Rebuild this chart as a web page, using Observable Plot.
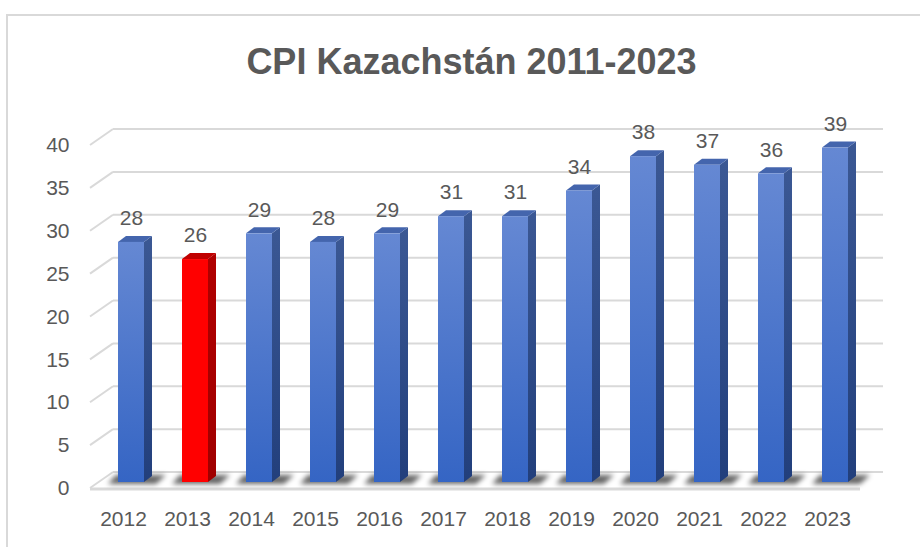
<!DOCTYPE html>
<html>
<head>
<meta charset="utf-8">
<script src="https://cdn.jsdelivr.net/npm/d3@7"></script>
<script src="https://cdn.jsdelivr.net/npm/@observablehq/plot@0.6"></script>
<style>
  html, body { margin: 0; padding: 0; background: #fff; overflow: hidden; }
  #wrap { position: relative; width: 920px; height: 547px; }
  #frame { position: absolute; left: 6px; top: 14px; width: 930px; height: 560px; border: 2px solid #d9d9d9; box-sizing: border-box; }
  #chart { position: absolute; left: 0; top: 0; }
</style>
</head>
<body>
<div id="wrap"><div id="frame"></div><div id="chart"></div></div>
<script>
// ---- data ----
const title = "CPI Kazachstán 2011-2023";
const years = ["2012","2013","2014","2015","2016","2017","2018","2019","2020","2021","2022","2023"];
const cpi = [28, 26, 29, 28, 29, 31, 31, 34, 38, 37, 36, 39];
const highlightYears = ["2013"];
const yTicks = [0, 5, 10, 15, 20, 25, 30, 35, 40];

const data = years.map((year, i) => ({year, value: cpi[i], hl: highlightYears.includes(year)}));

// ---- 3D styling (offsets in pixels) ----
const FRONT = {dx: -8, dy: 6};   // plane of axis labels / floor front edge
const BACK = {dx: 15, dy: -10};  // back wall
const DEPTH = {dx: 8, dy: -6};   // bar depth
const FONT = "'Liberation Sans', Arial, sans-serif";
const TEXT = "#595959";
const GRID = "#d9d9d9";

function el(name, attrs, parent) {
  const e = document.createElementNS("http://www.w3.org/2000/svg", name);
  for (const k in attrs) e.setAttribute(k, attrs[k]);
  if (parent) parent.appendChild(e);
  return e;
}

function defsMark() {
  const defs = el("defs", {});
  const mk = (id, stops) => {
    const g = el("linearGradient", {id, x1: 0, y1: 0, x2: 0, y2: 1}, defs);
    stops.forEach(([o, c]) => el("stop", {offset: o, "stop-color": c}, g));
  };
  mk("blueFront", [[0, "#6588d3"], [1, "#3565c4"]]);
  mk("blueSide", [[0, "#3b5894"], [1, "#223f7c"]]);
  mk("redFront", [[0, "#ff0000"], [1, "#ff0000"]]);
  mk("redSide", [[0, "#b00000"], [1, "#a00000"]]);
  const f = el("filter", {id: "blur", x: "-50%", y: "-200%", width: "200%", height: "500%"}, defs);
  el("feGaussianBlur", {stdDeviation: 2.5}, f);
  return defs;
}

function gridMark(index, scales) {
  const g = el("g", {fill: "none", stroke: GRID, "stroke-width": 2});
  const [xa, xb] = scales.x.range();
  const y0 = scales.y(0);
  // floor front edge
  el("line", {x1: xa + FRONT.dx, y1: y0 + FRONT.dy + 1, x2: xb + FRONT.dx, y2: y0 + FRONT.dy + 1, "stroke-width": 3}, g);
  for (const t of yTicks) {
    const y = scales.y(t);
    el("line", {x1: xa + BACK.dx, y1: y + BACK.dy, x2: xb + BACK.dx, y2: y + BACK.dy}, g);
    el("line", {x1: xa + FRONT.dx, y1: y + FRONT.dy, x2: xa + BACK.dx, y2: y + BACK.dy}, g);
  }
  return g;
}

function barsMark(index, scales) {
  const g = el("g", {});
  const bw = scales.x.bandwidth ? scales.x.bandwidth() : 26;
  const yb = scales.y(0);
  // shadows on the floor
  const sh = el("g", {filter: "url(#blur)", fill: "#000", "fill-opacity": 0.6}, g);
  for (const d of data) {
    const xl = scales.x(d.year);
    el("polygon", {points: [
      [xl - 10, yb + 2], [xl + bw + 12, yb + 2], [xl + bw + 22, yb - 7], [xl - 2, yb - 7]
    ].map(p => p.join(",")).join(" ")}, sh);
  }
  for (const d of data) {
    const xl = scales.x(d.year), yt = scales.y(d.value);
    const front = d.hl ? "url(#redFront)" : "url(#blueFront)";
    const side = d.hl ? "url(#redSide)" : "url(#blueSide)";
    const top = d.hl ? "#c00000" : "#4465ad";
    el("polygon", {fill: side, points: [
      [xl + bw, yt], [xl + bw + DEPTH.dx, yt + DEPTH.dy], [xl + bw + DEPTH.dx, yb + DEPTH.dy], [xl + bw, yb]
    ].map(p => p.join(",")).join(" ")}, g);
    el("polygon", {fill: top, points: [
      [xl, yt], [xl + DEPTH.dx, yt + DEPTH.dy], [xl + bw + DEPTH.dx, yt + DEPTH.dy], [xl + bw, yt]
    ].map(p => p.join(",")).join(" ")}, g);
    el("rect", {fill: front, x: xl, y: yt, width: bw, height: yb - yt}, g);
  }
  return g;
}

const chart = Plot.plot({
  width: 920,
  height: 547,
  margin: 0,
  style: {fontFamily: FONT, background: "transparent", overflow: "visible"},
  x: {type: "band", domain: years, range: [98, 868], paddingInner: 0.594, paddingOuter: 0.297, axis: null},
  y: {domain: [0, 40], range: [482, 139], axis: null},
  marks: [
    defsMark,
    gridMark,
    barsMark,
    // value labels
    Plot.text(data, {x: "year", y: "value", text: d => String(d.value), dy: -24, fontSize: 21, fill: TEXT}),
    // y axis labels (front plane)
    Plot.text(yTicks, {y: d => d, text: d => String(d), frameAnchor: "left", dx: 69, dy: FRONT.dy, textAnchor: "end", fontSize: 21, fill: TEXT}),
    // x axis labels (front plane)
    Plot.text(data, {x: "year", y: () => 0, text: "year", dx: FRONT.dx, dy: FRONT.dy + 31, fontSize: 21, fill: TEXT}),
    // title
    Plot.text([title], {frameAnchor: "top", lineAnchor: "middle", text: d => d, dx: 11, dy: 62, fontSize: 36, fontWeight: "bold", fill: TEXT})
  ]
});
document.getElementById("chart").appendChild(chart);
</script>
</body>
</html>
